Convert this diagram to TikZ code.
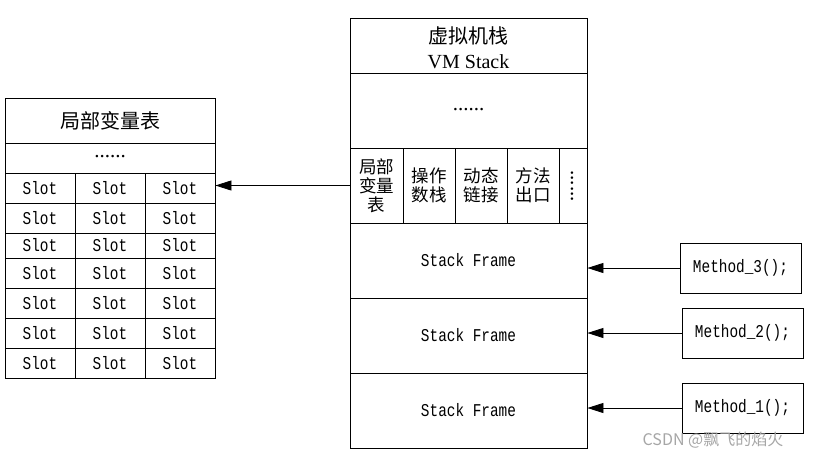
\documentclass[tikz,border=0pt]{standalone}
\usepackage{fontspec}
\setmainfont{Liberation Serif}
\newfontfamily\cjk{Noto Sans CJK SC}
\newfontfamily\codefont[FakeStretch=0.8]{Liberation Mono}
\usetikzlibrary{arrows.meta}
\begin{document}
\begin{tikzpicture}[x=1pt,y=-1pt,
  box/.style={draw, line width=0.8pt, inner sep=0pt, anchor=center},
  code/.style={font=\codefont\fontsize{18}{20}\selectfont},
  zh/.style={font=\cjk\fontsize{20}{24}\selectfont},
  zhs/.style={font=\cjk\fontsize{17.5}{21}\selectfont, align=center},
  dots/.style={font=\fontsize{21}{21}\selectfont},
  arr/.style={-{Triangle[length=16pt,width=10pt]}, line width=0.8pt}]
\useasboundingbox (0,0) rectangle (815,459);

% left table: local variable table
\node[box, zh, minimum width=210pt, minimum height=45pt] (lt) at (110,120.5) {局部变量表};
\node[box, dots, minimum width=210pt, minimum height=30pt] (ltd) at (110,158) {};
\node[dots] (ltdt) at (110,157) {......};
\foreach \cy/\h [count=\r] in {188/30,218/30,245.5/25,273/30,303/30,333/30,363/30} {
  \foreach \cx [count=\c] in {40,110,180} {
    \node[box, code, minimum width=70pt, minimum height=\h pt] (s-\r-\c) at (\cx,\cy) {Slot};
  }
}

% VM stack
\node[box, minimum width=237pt, minimum height=55pt] (vmt) at (468.5,45.5) {};
\node[zh] (vmt1) at (468.5,36) {虚拟机栈};
\node[font=\fontsize{20}{22}\selectfont] (vmt2) at (468.5,62) {VM Stack};
\node[box, minimum width=237pt, minimum height=75pt] (vmd) at (468.5,110.5) {};
\node[dots] (vmdt) at (468.5,110) {......};

\node[box, zhs, minimum width=53pt, minimum height=75pt] (c1) at (376.5,185.5) {局部\\[-2pt]变量\\[-2pt]表};
\node[box, zhs, minimum width=52pt, minimum height=75pt] (c2) at (429,185.5) {操作\\[-2pt]数栈};
\node[box, zhs, minimum width=52pt, minimum height=75pt] (c3) at (481,185.5) {动态\\[-2pt]链接};
\node[box, zhs, minimum width=52pt, minimum height=75pt] (c4) at (533,185.5) {方法\\[-2pt]出口};
\node[box, minimum width=28pt, minimum height=75pt] (c5) at (573,185.5) {};
\node[dots, rotate=-90] (c5t) at (572,186) {......};

\node[box, code, minimum width=237pt, minimum height=75pt] (f3) at (468.5,260.5) {Stack Frame};
\node[box, code, minimum width=237pt, minimum height=75pt] (f2) at (468.5,335.5) {Stack Frame};
\node[box, code, minimum width=237pt, minimum height=75pt] (f1) at (468.5,410.5) {Stack Frame};

% method boxes
\node[box, code, minimum width=121pt, minimum height=50pt] (m3) at (740.5,268) {Method\_3();};
\node[box, code, minimum width=121pt, minimum height=50pt] (m2) at (742.5,333) {Method\_2();};
\node[box, code, minimum width=121pt, minimum height=50pt] (m1) at (742.5,408) {Method\_1();};

% arrows
\draw[arr] (m3.west) -- (m3.west -| f3.east);
\draw[arr] (m2.west) -- (m2.west -| f2.east);
\draw[arr] (m1.west) -- (m1.west -| f1.east);
\draw[arr] (c1.west) -- (c1.west -| s-1-3.east);

% watermark
\node[font=\cjk\fontsize{16}{18}\selectfont, text=black!35] (wm) at (713,440) {CSDN @飘飞的焰火};
\end{tikzpicture}
\end{document}
